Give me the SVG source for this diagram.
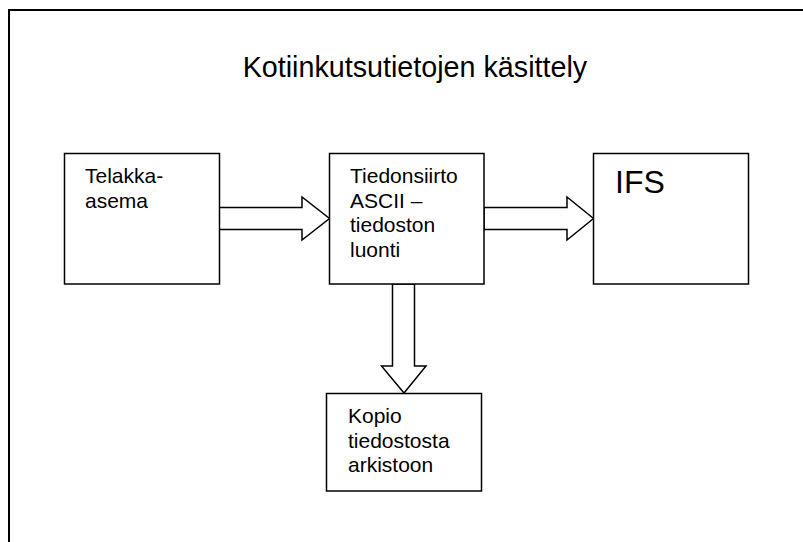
<svg xmlns="http://www.w3.org/2000/svg" width="803" height="542" viewBox="0 0 803 542">
<style>
.box{fill:#fff;stroke:#000;stroke-width:1.5}
.arr{fill:#fff;stroke:#000;stroke-width:1.5;stroke-linejoin:miter}
text{font-family:"Liberation Sans",Arial,sans-serif;fill:#000}
.t{font-size:21px}
</style>
<rect width="803" height="542" fill="#fff"/>
<path d="M9,545 V10 H805" fill="none" stroke="#000" stroke-width="2"/>
<text x="242.7" y="76.7" font-size="28.7">Kotiinkutsutietojen käsittely</text>
<g id="connectors">
<polygon class="arr" points="219,207.5 302,207.5 302,197 329.5,218.5 302,240 302,229.5 219,229.5"/>
<polygon class="arr" points="484,207.5 567,207.5 567,197 593.5,218.5 567,240 567,229.5 484,229.5"/>
<polygon class="arr" points="392.5,284 392.5,366 381.5,366 404,393 426,366 414.5,366 414.5,284"/>
</g>
<g id="telakka">
<rect class="box" x="64.5" y="153.5" width="155" height="130.5"/>
<text class="t" x="85" y="183">Telakka-</text>
<text class="t" x="85" y="207.5">asema</text>
</g>
<g id="tiedonsiirto">
<rect class="box" x="329.5" y="153.5" width="154.5" height="130.5"/>
<text class="t" x="350" y="183">Tiedonsiirto</text>
<text class="t" x="350" y="207.5">ASCII –</text>
<text class="t" x="350" y="232">tiedoston</text>
<text class="t" x="350" y="256.5">luonti</text>
</g>
<g id="ifs">
<rect class="box" x="593.5" y="153.5" width="155" height="130.5"/>
<text x="615" y="192.7" font-size="32">IFS</text>
</g>
<g id="kopio">
<rect class="box" x="326.5" y="393.5" width="155" height="97.5"/>
<text class="t" x="348" y="423">Kopio</text>
<text class="t" x="348" y="448">tiedostosta</text>
<text class="t" x="348" y="472">arkistoon</text>
</g>
</svg>
